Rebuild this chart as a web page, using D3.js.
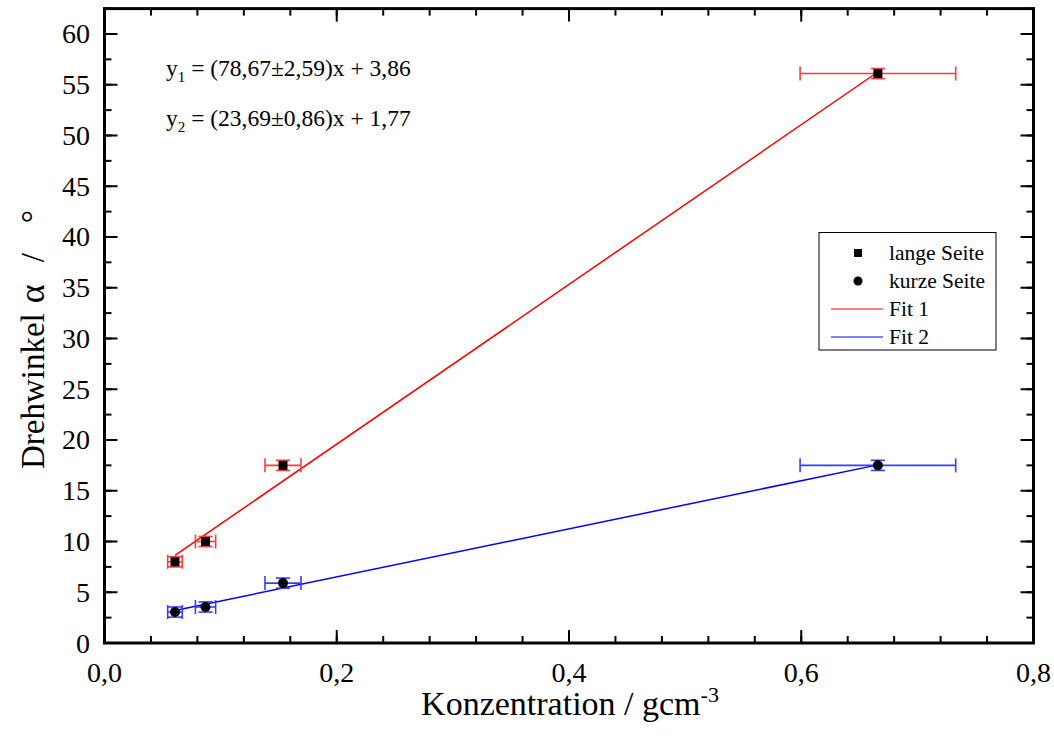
<!DOCTYPE html>
<html>
<head>
<meta charset="utf-8">
<script src="https://cdn.jsdelivr.net/npm/d3@7"></script>
<style>
  body { margin: 0; background: #fff; }
  text { font-family: "Liberation Serif", "Times New Roman", serif; }
</style>
</head>
<body>
<div id="chart"></div>
<script>
// data
var conc = [0.0607, 0.087, 0.1537, 0.666];
var concErr = [0.0063, 0.0087, 0.0155, 0.067];
var langeSeite = [8.0, 10.0, 17.5, 56.1];
var kurzeSeite = [3.05, 3.55, 5.9, 17.5];
var angleErr = [0.5, 0.5, 0.5, 0.5];
var fitSlope = [78.67, 23.69];
var fitIntercept = [3.86, 1.77];
var xTicks = [0, 0.2, 0.4, 0.6, 0.8];
var yTicks = [0, 5, 10, 15, 20, 25, 30, 35, 40, 45, 50, 55, 60];

var w = 1054, h = 749;
var pl = 104.5, pr = 1033.5, pt = 8.6, pb = 643;

var svg = d3.select("#chart").append("svg").attr("width", w).attr("height", h);

var x = d3.scaleLinear().domain([0, 0.8]).range([pl, pr]);
var y = d3.scaleLinear().domain([0, 62.5]).range([pb, pt]);

var de = d3.formatLocale({ decimal: ",", thousands: ".", grouping: [3], currency: ["", ""] });
var fmt = de.format(".1f");

// minor ticks
var xMinor = d3.range(0, 0.8001, 0.04);
var yMinor = d3.range(0, 62.51, 2.5);

function tickLines(g, scale, vals, len, orient) {
  g.append("g")
    .selectAll("line")
    .data(vals)
    .enter()
    .append("line")
    .attr("stroke", "#000")
    .attr("stroke-width", 2)
    .attr("x1", function (d) { return orient == "x" ? scale(d) : 0; })
    .attr("x2", function (d) { return orient == "x" ? scale(d) : len; })
    .attr("y1", function (d) { return orient == "x" ? 0 : scale(d); })
    .attr("y2", function (d) { return orient == "x" ? len : scale(d); });
}

var gB = svg.append("g").attr("transform", "translate(0," + pb + ")");
tickLines(gB, x, xMinor, -7, "x");
tickLines(gB, x, xTicks, -13, "x");
var gT = svg.append("g").attr("transform", "translate(0," + pt + ")");
tickLines(gT, x, xMinor, 7, "x");
tickLines(gT, x, xTicks, 13, "x");
var gL = svg.append("g").attr("transform", "translate(" + pl + ",0)");
tickLines(gL, y, yMinor, 7, "y");
tickLines(gL, y, yTicks, 13, "y");
var gR = svg.append("g").attr("transform", "translate(" + pr + ",0)");
tickLines(gR, y, yMinor, -7, "y");
tickLines(gR, y, yTicks, -13, "y");

// frame
svg.append("rect")
  .attr("x", pl).attr("y", pt)
  .attr("width", pr - pl).attr("height", pb - pt)
  .attr("fill", "none").attr("stroke", "#000").attr("stroke-width", 3);

// tick labels
svg.append("g")
  .selectAll("text")
  .data(xTicks)
  .enter()
  .append("text")
  .attr("x", function (d) { return x(d); })
  .attr("y", 682)
  .attr("text-anchor", "middle")
  .style("font-size", "28px")
  .text(function (d) { return fmt(d); });

svg.append("g")
  .selectAll("text")
  .data(yTicks)
  .enter()
  .append("text")
  .attr("x", 90)
  .attr("y", function (d) { return y(d) + 9.5; })
  .attr("text-anchor", "end")
  .style("font-size", "28px")
  .text(function (d) { return d; });

// axis titles
var xt = svg.append("text")
  .attr("x", 570).attr("y", 715)
  .attr("text-anchor", "middle")
  .style("font-size", "34px");
xt.append("tspan").text("Konzentration / gcm");
xt.append("tspan").attr("dy", -13).style("font-size", "22px").text("-3");

var yt = svg.append("text")
  .attr("transform", "translate(44,469) rotate(-90)")
  .style("font-size", "33px");
yt.append("tspan").text("Drehwinkel");
yt.append("tspan").attr("dx", 10).style("font-size", "36px").text("\u03b1");
yt.append("tspan").attr("dx", 22).text("/");
yt.append("tspan").attr("dx", 30).text("\u00b0");

// fit lines
var colors = ["#ff0000", "#0000ff"];
var errColors = ["#ff3b3b", "#3b3bff"];
var series = [langeSeite, kurzeSeite];
var xr = d3.extent(conc);
var line = d3.line().x(function (d) { return x(d[0]); }).y(function (d) { return y(d[1]); });
fitSlope.forEach(function (m, k) {
  svg.append("path")
    .attr("d", line(xr.map(function (v) { return [v, m * v + fitIntercept[k]]; })))
    .attr("fill", "none")
    .attr("stroke", colors[k])
    .attr("stroke-width", 1.5);
});

// error bars
series.forEach(function (vals, k) {
  var g = svg.append("g").attr("stroke", errColors[k]).attr("stroke-width", 1.6);
  vals.forEach(function (v, i) {
    var cx = x(conc[i]), cy = y(v);
    var x0 = x(conc[i] - concErr[i]), x1 = x(conc[i] + concErr[i]);
    var y0 = y(v - angleErr[i]), y1 = y(v + angleErr[i]);
    g.append("line").attr("x1", x0).attr("x2", x1).attr("y1", cy).attr("y2", cy);
    g.append("line").attr("x1", x0).attr("x2", x0).attr("y1", cy - 7).attr("y2", cy + 7);
    g.append("line").attr("x1", x1).attr("x2", x1).attr("y1", cy - 7).attr("y2", cy + 7);
    g.append("line").attr("x1", cx).attr("x2", cx).attr("y1", y0).attr("y2", y1);
    g.append("line").attr("x1", cx - 7).attr("x2", cx + 7).attr("y1", y0).attr("y2", y0);
    g.append("line").attr("x1", cx - 7).attr("x2", cx + 7).attr("y1", y1).attr("y2", y1);
  });
});

// markers
svg.append("g")
  .selectAll("rect")
  .data(langeSeite)
  .enter()
  .append("rect")
  .attr("x", function (d, i) { return x(conc[i]) - 4.5; })
  .attr("y", function (d) { return y(d) - 4.5; })
  .attr("width", 9).attr("height", 9)
  .attr("fill", "#000");

svg.append("g")
  .selectAll("circle")
  .data(kurzeSeite)
  .enter()
  .append("circle")
  .attr("cx", function (d, i) { return x(conc[i]); })
  .attr("cy", function (d) { return y(d); })
  .attr("r", 5)
  .attr("fill", "#000");

// equations
var eqs = [["1", "(78,67\u00b12,59)x + 3,86"], ["2", "(23,69\u00b10,86)x + 1,77"]];
eqs.forEach(function (e, k) {
  var t = svg.append("text")
    .attr("x", 166).attr("y", 76 + k * 50)
    .style("font-size", "23.5px");
  t.append("tspan").text("y");
  t.append("tspan").attr("dy", 6).style("font-size", "15px").text(e[0]);
  t.append("tspan").attr("dy", -6).text(" = " + e[1]);
});

// legend
var lg = svg.append("g");
lg.append("rect")
  .attr("x", 819).attr("y", 232.5).attr("width", 177).attr("height", 117.5)
  .attr("fill", "#fff").attr("stroke", "#000").attr("stroke-width", 1);
var labels = ["lange Seite", "kurze Seite", "Fit 1", "Fit 2"];
labels.forEach(function (l, i) {
  var cy = 253 + i * 28;
  if (i == 0) {
    lg.append("rect").attr("x", 854).attr("y", cy - 4).attr("width", 8).attr("height", 8).attr("fill", "#000");
  } else if (i == 1) {
    lg.append("circle").attr("cx", 858).attr("cy", cy).attr("r", 4.5).attr("fill", "#000");
  } else {
    lg.append("line").attr("x1", 831).attr("x2", 883).attr("y1", cy).attr("y2", cy)
      .attr("stroke", colors[i - 2]).attr("stroke-width", 1.2);
  }
  lg.append("text").attr("x", 889).attr("y", cy + 7).style("font-size", "21.5px").text(l);
});
</script>
</body>
</html>
